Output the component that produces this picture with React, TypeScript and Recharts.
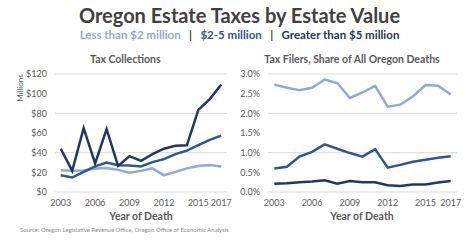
import React from "react";
import { LineChart, Line, XAxis, YAxis, CartesianGrid } from "recharts";

const LIGHT = "#8EA9DB";
const MEDIUM = "#2F5597";
const DARK = "#203864";
const TEXT = "#595959";
const FONT = "Lato, 'Open Sans', sans-serif";

const years = [2003, 2004, 2005, 2006, 2007, 2008, 2009, 2010, 2011, 2012, 2013, 2014, 2015, 2016, 2017];
const yearTicks = [2003, 2006, 2009, 2012, 2015, 2017];

// tax collections, $ millions
const collectUnder2 = [22, 21.5, 21.8, 24, 24.5, 22.5, 19.5, 21.5, 24, 17, 20.5, 24, 26.5, 27.5, 26];
const collect2to5 = [17, 14.7, 20.5, 26, 30, 27.3, 27, 26, 30.4, 33.4, 38.5, 42, 47.7, 53, 57.3];
const collectOver5 = [44, 21.5, 65, 29, 64, 26.6, 36.5, 31.7, 38.5, 44, 47, 47.5, 83.5, 94.5, 109.4];
const collectTicks = [0, 20, 40, 60, 80, 100, 120];

// filers as share of all deaths, %
const shareUnder2 = [2.73, 2.65, 2.59, 2.65, 2.86, 2.77, 2.39, 2.53, 2.7, 2.17, 2.22, 2.43, 2.72, 2.7, 2.48];
const share2to5 = [0.6, 0.64, 0.9, 1.02, 1.21, 1.1, 0.99, 0.9, 1.09, 0.62, 0.69, 0.77, 0.82, 0.87, 0.91];
const shareOver5 = [0.21, 0.22, 0.25, 0.27, 0.3, 0.21, 0.28, 0.25, 0.25, 0.17, 0.15, 0.19, 0.19, 0.24, 0.28];
const shareTicks = [0, 0.5, 1, 1.5, 2, 2.5, 3];

const collectData = years.map((year, i) => ({
  year,
  under2: collectUnder2[i],
  mid: collect2to5[i],
  over5: collectOver5[i],
}));

const shareData = years.map((year, i) => ({
  year,
  under2: shareUnder2[i],
  mid: share2to5[i],
  over5: shareOver5[i],
}));

const tickStyle = { fontSize: 9, fill: TEXT, fontFamily: FONT };

const lines = [
  { key: "under2", color: LIGHT },
  { key: "mid", color: MEDIUM },
  { key: "over5", color: DARK },
];

const label = (style: React.CSSProperties, text: React.ReactNode) => (
  <div style={{ position: "absolute", whiteSpace: "pre", fontFamily: FONT, ...style }}>{text}</div>
);

export default function App() {
  return (
    <div style={{ position: "absolute", left: 0, top: 0, width: 474, height: 248, background: "#fff", overflow: "hidden" }}>
      {label(
        { left: 0, width: 479, top: 3, textAlign: "center", fontSize: 20, fontWeight: 700, color: "#404040" },
        "Oregon Estate Taxes by Estate Value"
      )}
      {label(
        { left: 0, width: 479, top: 28, textAlign: "center", fontSize: 11.5, fontWeight: 700, color: "#404040" },
        <>
          <span style={{ color: LIGHT }}>Less than $2 million</span>
          {"   |   "}
          <span style={{ color: MEDIUM }}>$2-5 million</span>
          {"   |   "}
          <span style={{ color: DARK }}>Greater than $5 million</span>
        </>
      )}
      {label({ left: 90, width: 70, top: 53, textAlign: "center", fontSize: 10.5, fontWeight: 700, color: TEXT }, "Tax Collections")}
      {label(
        { left: 262, width: 180, top: 53, textAlign: "center", fontSize: 10.5, fontWeight: 700, color: TEXT },
        "Tax Filers, Share of All Oregon Deaths"
      )}
      {label(
        { left: -4, top: 82, width: 50, textAlign: "center", fontSize: 8, color: TEXT, transform: "rotate(-90deg)", transformOrigin: "25px 6px" },
        "Millions"
      )}
      {label({ left: 91, width: 100, top: 210, textAlign: "center", fontSize: 10.5, fontWeight: 700, color: TEXT }, "Year of Death")}
      {label({ left: 312, width: 100, top: 210, textAlign: "center", fontSize: 10.5, fontWeight: 700, color: TEXT }, "Year of Death")}
      {label(
        { left: 20, top: 226, fontSize: 6, color: "#8c8c8c" },
        "Source: Oregon Legislative Revenue Office, Oregon Office of Economic Analysis"
      )}

      <div style={{ position: "absolute", left: 0, top: 0 }}>
        <LineChart width={235} height={248} data={collectData} margin={{ top: 74, right: 8, bottom: 36, left: 0 }}>
          <CartesianGrid vertical={false} stroke="#d9d9d9" />
          <XAxis
            dataKey="year"
            type="number"
            domain={[2002.5, 2017.5]}
            ticks={yearTicks}
            axisLine={false}
            tickLine={false}
            tick={tickStyle}
            height={20}
            interval={0}
          />
          <YAxis
            width={55}
            domain={[0, 120]}
            ticks={collectTicks}
            axisLine={false}
            tickLine={false}
            tick={tickStyle}
            tickFormatter={(v: number) => `$${v}`}
          />
          {lines.map((l) => (
            <Line key={l.key} dataKey={l.key} stroke={l.color} strokeWidth={2.5} dot={false} isAnimationActive={false} />
          ))}
        </LineChart>
      </div>

      <div style={{ position: "absolute", left: 235, top: 0 }}>
        <LineChart width={239} height={248} data={shareData} margin={{ top: 74, right: 17, bottom: 36, left: 0 }}>
          <CartesianGrid vertical={false} stroke="#d9d9d9" />
          <XAxis
            dataKey="year"
            type="number"
            domain={[2002.5, 2017.5]}
            ticks={yearTicks}
            axisLine={false}
            tickLine={false}
            tick={tickStyle}
            height={20}
            interval={0}
          />
          <YAxis
            width={33}
            domain={[0, 3]}
            ticks={shareTicks}
            axisLine={false}
            tickLine={false}
            tick={tickStyle}
            tickFormatter={(v: number) => `${v.toFixed(1)}%`}
          />
          {lines.map((l) => (
            <Line key={l.key} dataKey={l.key} stroke={l.color} strokeWidth={2.5} dot={false} isAnimationActive={false} />
          ))}
        </LineChart>
      </div>
    </div>
  );
}
